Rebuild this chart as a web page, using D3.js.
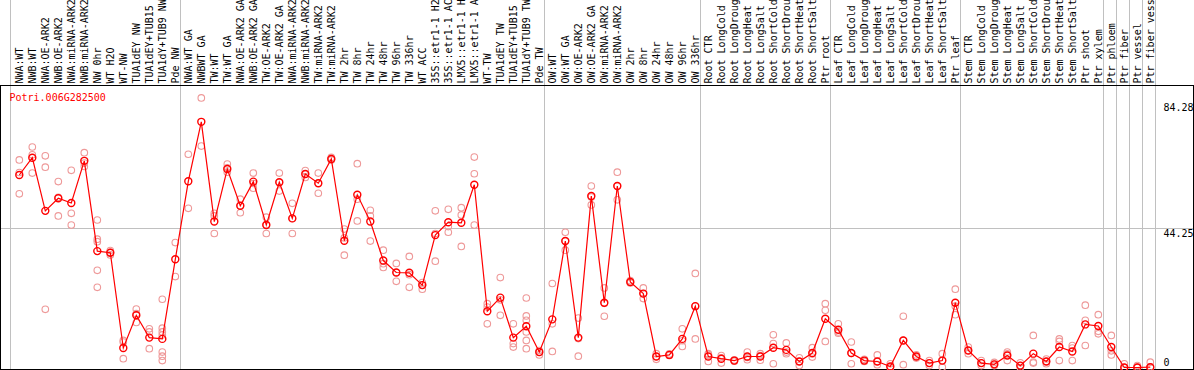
<!DOCTYPE html>
<html><head><meta charset="utf-8">
<script src="https://cdn.jsdelivr.net/npm/d3@7"></script>
<style>
body{margin:0;background:#fff}
svg{display:block}
text{font-family:"DejaVu Sans Mono",monospace;font-size:10px}
</style>
</head><body>
<svg id="chart" width="1194" height="370"></svg>
<script>
const title = "Potri.006G282500";

const categories = [
  "NWA:WT","NWB:WT","NWA:OE-ARK2","NWB:OE-ARK2","NWA:miRNA-ARK2","NWB:miRNA-ARK2","NW 0hr","WT H2O","WT-NW",
  "TUA1dEY NW","TUA1dEY+TUB15 NW","TUA1dY+TUB9 NW","Pde NW",
  "NWA:WT GA","NWBWT GA","TW:WT","TW:WT GA","NWA:OE-ARK2 GA","NWB:OE-ARK2 GA","TW:OE-ARK2","TW:OE-ARK2 GA",
  "NWA:miRNA-ARK2 GA","NWB:miRNA-ARK2 GA","TW:miRNA-ARK2","TW:miRNA-ARK2 GA","TW 2hr","TW 8hr","TW 24hr","TW 48hr",
  "TW 96hr","TW 336hr","WT ACC","35S::etr1-1 H2O","35S::etr1-1 ACC","LMX5::etr1-1 H2O","LMX5::etr1-1 ACC","WT-TW",
  "TUA1dEY TW","TUA1dEY+TUB15 TW","TUA1dY+TUB9 TW","Pde TW",
  "OW:WT","OW:WT GA","OW:OE-ARK2","OW:OE-ARK2 GA","OW:miRNA-ARK2","OW:miRNA-ARK2 GA","OW 2hr","OW 8hr","OW 24hr",
  "OW 48hr","OW 96hr","OW 336hr",
  "Root CTR","Root LongCold","Root LongDrought","Root LongHeat","Root LongSalt","Root ShortCold","Root ShortDrought",
  "Root ShortHeat","Root ShortSalt","Ptr root",
  "Leaf CTR","Leaf LongCold","Leaf LongDrought","Leaf LongHeat","Leaf LongSalt","Leaf ShortCold","Leaf ShortDrought",
  "Leaf ShortHeat","Leaf ShortSalt","Ptr leaf",
  "Stem CTR","Stem LongCold","Stem LongDrought","Stem LongHeat","Stem LongSalt","Stem ShortCold","Stem ShortDrought",
  "Stem ShortHeat","Stem ShortSalt","Ptr shoot","Ptr xylem",
  "Ptr phloem","Ptr fiber","Ptr vessel","Ptr fiber vessel"
];

const groupSizes = [13, 28, 12, 10, 10, 11, 1, 1, 1, 1];

const means = [
  61.2,66.7,49.8,53.8,52.3,65.7,37.0,36.5,6.2,16.6,9.5,9.1,34.4,
  59.2,78.1,46.4,63.1,51.4,59.1,45.3,58.9,47.4,61.5,58.6,66.3,40.3,54.9,46.4,34.0,30.2,30.1,26.2,42.1,46.2,46.0,58.1,17.9,22.2,9.5,13.1,4.9,
  15.3,40.2,9.5,54.5,20.6,57.7,27.2,23.5,3.5,4.0,9.1,19.5,
  3.5,2.8,2.2,3.5,3.5,6.3,5.6,1.9,4.6,15.5,
  12.0,4.6,2.2,1.9,0.3,8.6,3.5,1.4,2.2,20.6,
  5.4,1.4,1.0,3.8,0.6,4.4,1.9,6.5,5.1,13.7,13.2,
  6.5,0.0,0.0,0.1
];

const replicates = [
  [66.0,62.0,55.2],[70.1,67.6,61.8],[67.3,63.7,18.5],[59.1,54.1,48.2],[62.7,49.0,45.3],[68.3,65.0,63.9],
  [46.9,40.8,40.0,30.9,25.5],[37.2,36.6,35.8],[8.6,8.1,2.8],[18.6,17.1,14.3],[12.3,11.3,6.0],
  [21.7,12.5,11.3,10.3,4.9,3.6,2.2],[39.7,28.9],
  [67.8,50.6],[85.7,70.4],[49.0,48.2,42.6],[64.7,63.5,62.1],[53.5,51.4,49.2],[61.8,58.5,57.0],[47.8,45.4,42.6],
  [61.8,58.9,56.1],[52.2,47.4,42.6],[62.6,61.5,60.4],[61.8,58.6,55.4],[66.8,66.3,66.0],[44.0,41.2,35.7],
  [64.8,53.5,46.6],[50.0,48.2,40.2],[37.3,33.0,31.8],[33.1,30.2,27.4],[35.3,29.5,25.5],[27.0,26.2,24.9],
  [49.8,42.6,33.8],[50.3,44.8,43.0],[50.8,48.5,38.5],[66.9,61.6,45.3],[20.3,19.2,13.9],[28.6,21.5,16.6],
  [13.9,7.6,6.5],[22.1,16.4,15.0,11.3,8.6,6.0],[5.4,4.9,4.0],
  [26.7,13.9,5.1],[43.0,40.2,37.3],[15.7,9.2,3.6],[57.7,54.2,51.7],[25.3,20.4,16.3],[62.1,57.7,53.3],
  [27.6,27.2,26.9],[25.3,23.5,21.9],[4.4,3.5,2.6],[4.3,4.0,3.8],[12.3,8.5,6.7],[29.9,19.5,9.1],
  [4.4,4.1,1.9],[3.8,3.1,1.4],[2.4,2.2,2.0],[4.9,3.2,2.5],[4.4,3.8,2.3],[10.4,7.6,1.2],[7.8,4.9,4.4],
  [3.1,1.9,0.6],[6.3,4.3,3.3],[20.3,18.2,8.3],
  [13.9,11.3,10.9],[8.1,4.5,1.2],[2.6,2.2,1.9],[4.0,1.9,0.9],[1.2,0.2,0.0],[16.3,8.6,0.9],[4.0,3.5,3.0],
  [2.2,1.4,0.6],[4.4,2.2,0.1],[24.9,19.5,16.8],
  [6.5,5.4,4.4],[2.2,1.4,0.6],[1.6,1.0,0.6],[4.9,4.3,2.2],[1.5,0.6,0.0],[10.2,1.7,1.4],[2.7,1.9,1.2],
  [9.1,8.3,2.2],[7.0,6.2,2.2],[19.8,15.0,7.0],[16.8,11.5,10.7],
  [10.2,5.3,4.0],[1.2,0.0,0.0],[0.6,0.1,0.0],[1.7,0.2,0.0]
];

const yTickValues = [84.28, 44.25, 0];
const gridValues = [44.25];

const W = 1194, H = 370;
const plotTop = 85, plotBottom = 369, plotLeft = 0.5, plotRight = 1193;
const svg = d3.select("#chart");
svg.append("rect").attr("width", W).attr("height", H).attr("fill", "#fff");

const idx = d3.range(categories.length);
const x = d3.scalePoint().domain(idx).range([19.3, 1150.3]);
const y = d3.scaleLinear().domain([0, 84.28]).range([367.5, 102.4]);

const grey = "#c0c0c0";

// horizontal gridline
svg.selectAll("line.grid").data(gridValues).join("line")
  .attr("class","grid")
  .attr("x1", plotLeft).attr("x2", plotRight)
  .attr("y1", d => Math.round(y(d)) + 0.5).attr("y2", d => Math.round(y(d)) + 0.5)
  .attr("stroke", grey).attr("stroke-width", 1);

// group separators
const sepX = [x(0) - 9];
let acc = 0;
groupSizes.forEach(s => { acc += s; sepX.push(x(acc - 1) + 5); });
svg.selectAll("line.sep").data(sepX).join("line")
  .attr("class","sep")
  .attr("x1", d => Math.round(d) + 0.5).attr("x2", d => Math.round(d) + 0.5)
  .attr("y1", 0).attr("y2", plotBottom)
  .attr("stroke", grey).attr("stroke-width", 1);

// frame
svg.append("line").attr("x1", 0).attr("x2", W).attr("y1", plotTop + 0.5).attr("y2", plotTop + 0.5)
  .attr("stroke", "#000").attr("stroke-width", 1);
svg.append("line").attr("x1", 0).attr("x2", W).attr("y1", plotBottom + 0.5).attr("y2", plotBottom + 0.5)
  .attr("stroke", "#000").attr("stroke-width", 1);
svg.append("line").attr("x1", plotLeft).attr("x2", plotLeft).attr("y1", plotTop).attr("y2", plotBottom + 1)
  .attr("stroke", "#000").attr("stroke-width", 1);
svg.append("line").attr("x1", plotRight + 0.5).attr("x2", plotRight + 0.5).attr("y1", plotTop).attr("y2", plotBottom + 1)
  .attr("stroke", "#000").attr("stroke-width", 1);

// category labels (vertical)
svg.selectAll("text.cat").data(idx).join("text")
  .attr("class","cat")
  .attr("transform", i => `translate(${x(i)},83.5) rotate(-90)`)
  .attr("dy", "0.36em")
  .attr("fill", "#000")
  .text(i => categories[i]);

// title
svg.append("text").attr("x", 9.5).attr("y", 100.5).attr("fill", "#ff0000").text(title);

// y tick labels
svg.selectAll("text.ytick").data(yTickValues).join("text")
  .attr("class","ytick")
  .attr("x", 1163.5)
  .attr("y", d => Math.min(y(d) + 8.3, 365.5))
  .attr("fill", "#000")
  .text(d => String(d));

// replicate points
const repPts = [];
replicates.forEach((arr, i) => arr.forEach(v => repPts.push({i, v})));
svg.append("g").selectAll("circle").data(repPts).join("circle")
  .attr("cx", d => x(d.i)).attr("cy", d => y(d.v)).attr("r", 3.3)
  .attr("fill", "none").attr("stroke", "#ee9999").attr("stroke-width", 1.1);

// mean line
svg.append("path").datum(idx)
  .attr("d", d3.line().x(i => x(i)).y(i => y(means[i])))
  .attr("fill", "none").attr("stroke", "#ff0000").attr("stroke-width", 1.2);

// mean points
svg.append("g").selectAll("circle").data(idx).join("circle")
  .attr("cx", i => x(i)).attr("cy", i => y(means[i])).attr("r", 3.5)
  .attr("fill", "none").attr("stroke", "#ff0000").attr("stroke-width", 1.4);
</script>
</body></html>
